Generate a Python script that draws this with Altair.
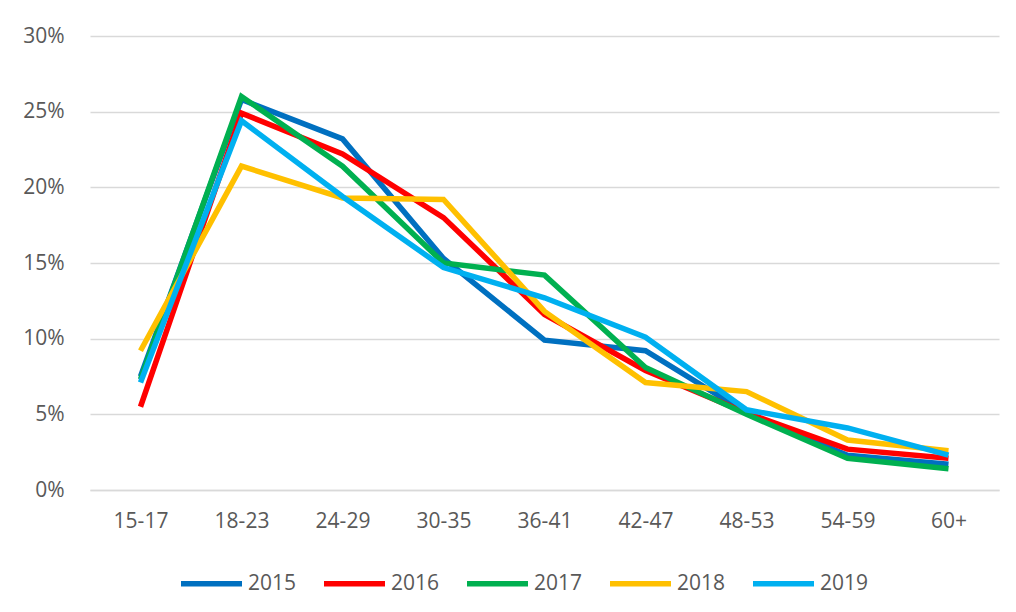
import altair as alt
import pandas as pd

categories = ["15-17", "18-23", "24-29", "30-35", "36-41", "42-47", "48-53", "54-59", "60+"]
years = ["2015", "2016", "2017", "2018", "2019"]
v2015 = [7.5, 25.8, 23.2, 15.3, 9.9, 9.2, 5.1, 2.3, 1.7]
v2016 = [5.5, 24.9, 22.2, 18.0, 11.6, 7.9, 5.1, 2.7, 2.1]
v2017 = [7.3, 26.0, 21.4, 15.0, 14.2, 8.1, 5.0, 2.1, 1.4]
v2018 = [9.2, 21.4, 19.3, 19.2, 11.8, 7.1, 6.5, 3.3, 2.6]
v2019 = [7.1, 24.4, 19.4, 14.7, 12.7, 10.1, 5.3, 4.1, 2.3]
colors = ["#0070C0", "#FF0000", "#00B050", "#FFC000", "#00B0F0"]

rows = []
for y, vals in zip(years, [v2015, v2016, v2017, v2018, v2019]):
    for c, v in zip(categories, vals):
        rows.append({"age": c, "year": y, "value": v / 100})
df = pd.DataFrame(rows)

FONT = "Open Sans"
chart = alt.Chart(df).mark_line(strokeWidth=5.5, strokeJoin="miter").encode(
    x=alt.X("age:N", sort=categories, title=None,
            scale=alt.Scale(type="point", padding=0.5),
            axis=alt.Axis(labelAngle=0, ticks=False, domain=True, domainColor="#D9D9D9",
                          domainWidth=1.5, labelPadding=20, labelFontSize=21,
                          labelColor="#595959", labelFont=FONT, grid=False)),
    y=alt.Y("value:Q", title=None,
            scale=alt.Scale(domain=[0, 0.3], nice=False),
            axis=alt.Axis(format=".0%", values=[0, 0.05, 0.1, 0.15, 0.2, 0.25, 0.3],
                          ticks=False, domain=False, gridColor="#D9D9D9", gridWidth=1.5,
                          labelPadding=26, labelFontSize=21, labelColor="#595959",
                          labelFont=FONT)),
    color=alt.Color("year:N", sort=years,
                    scale=alt.Scale(domain=years, range=colors),
                    legend=alt.Legend(title=None, orient="none", direction="horizontal",
                                      legendX=88, legendY=514, symbolType="stroke",
                                      symbolSize=3721, symbolStrokeWidth=5.5,
                                      labelFontSize=21, labelColor="#595959",
                                      labelFont=FONT, labelOffset=3, columnPadding=16)),
    order=alt.Order("year:N"),
).properties(
    width=909, height=454,
    autosize=alt.AutoSizeParams(type="none"),
    padding={"left": 82, "top": 28, "right": 9, "bottom": 114},
).configure_view(stroke=None)

chart.save("out.html", embed_options={"renderer": "svg", "actions": False})
